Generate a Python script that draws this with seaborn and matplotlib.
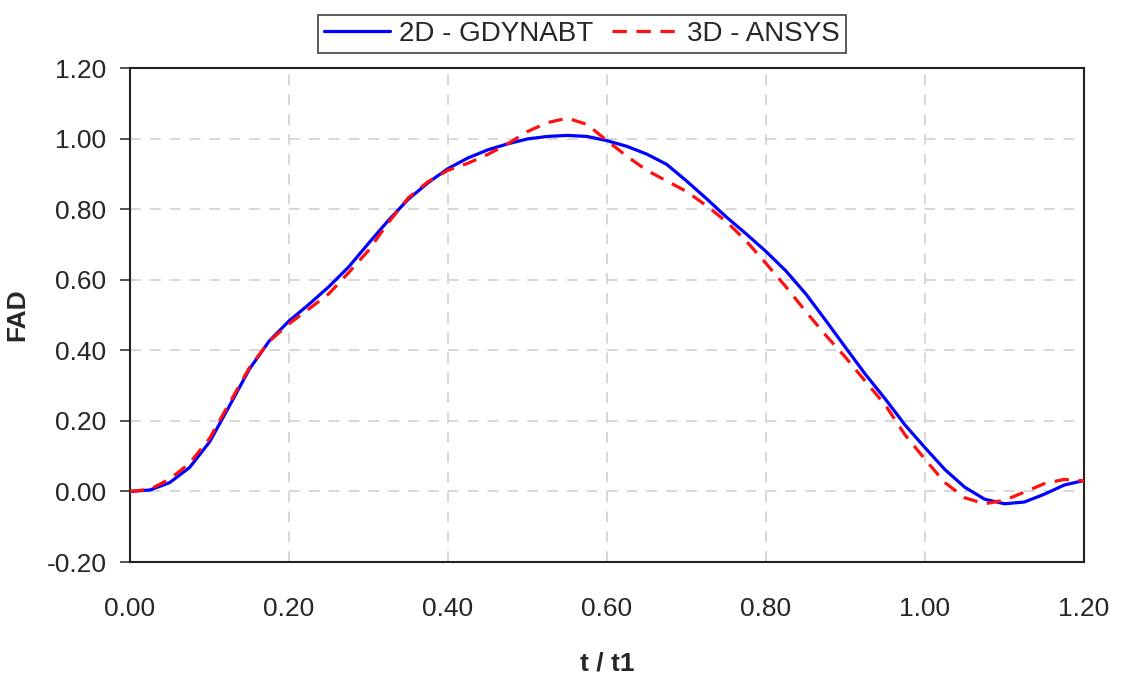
import numpy as np
import pandas as pd
import matplotlib
matplotlib.use("Agg")
import matplotlib.pyplot as plt
import seaborn as sns

t_2d = [0.000, 0.025, 0.050, 0.075, 0.100, 0.125, 0.150, 0.175, 0.200, 0.225,
        0.250, 0.275, 0.300, 0.325, 0.350, 0.375, 0.400, 0.425, 0.450, 0.475,
        0.500, 0.525, 0.550, 0.575, 0.600, 0.625, 0.650, 0.675, 0.700, 0.725,
        0.750, 0.775, 0.800, 0.825, 0.850, 0.875, 0.900, 0.925, 0.950, 0.975,
        1.000, 1.025, 1.050, 1.075, 1.100, 1.125, 1.150, 1.175, 1.200]
fad_2d = [0.000, 0.004, 0.025, 0.068, 0.140, 0.242, 0.346, 0.426, 0.483, 0.530,
          0.580, 0.636, 0.703, 0.768, 0.828, 0.875, 0.915, 0.945, 0.968, 0.985,
          0.999, 1.006, 1.009, 1.006, 0.994, 0.978, 0.956, 0.927, 0.880, 0.830,
          0.778, 0.730, 0.680, 0.625, 0.560, 0.485, 0.408, 0.332, 0.262, 0.188,
          0.124, 0.062, 0.012, -0.022, -0.035, -0.030, -0.008, 0.018, 0.031]

t_3d = t_2d
fad_3d = [0.000, 0.006, 0.035, 0.080, 0.150, 0.250, 0.350, 0.425, 0.475, 0.517,
          0.560, 0.620, 0.683, 0.762, 0.832, 0.878, 0.910, 0.930, 0.955, 0.985,
          1.020, 1.045, 1.058, 1.040, 0.994, 0.950, 0.910, 0.880, 0.850, 0.810,
          0.765, 0.710, 0.646, 0.580, 0.510, 0.443, 0.380, 0.312, 0.245, 0.160,
          0.091, 0.025, -0.018, -0.035, -0.025, -0.002, 0.022, 0.034, 0.030]

labels = ["2D - GDYNABT", "3D - ANSYS"]
x_ticks = [0.0, 0.2, 0.4, 0.6, 0.8, 1.0, 1.2]
y_ticks = [-0.2, 0.0, 0.2, 0.4, 0.6, 0.8, 1.0, 1.2]

sns.set_style("white")
plt.rcParams["font.family"] = ["Liberation Sans", "DejaVu Sans"]

fig = plt.figure(figsize=(11.23, 6.75), dpi=100)
ax = fig.add_axes([130/1123, 1-562/675, (1084-130)/1123, (562-68)/675])

df2 = pd.DataFrame({"t": t_2d, "FAD": fad_2d})
df3 = pd.DataFrame({"t": t_3d, "FAD": fad_3d})
sns.lineplot(data=df2, x="t", y="FAD", ax=ax, color="#0000ff", lw=2.3,
             label=labels[0], zorder=3)
sns.lineplot(data=df3, x="t", y="FAD", ax=ax, color="#ff1010", lw=2.3,
             label=labels[1], zorder=4)
ax.lines[1].set_dashes([4.5, 3])
for ln in ax.lines:
    ln.set_solid_joinstyle("round")
    ln.set_dash_joinstyle("round")

ax.set_xlim(0, 1.2)
ax.set_ylim(-0.2, 1.2)
ax.set_xticks(x_ticks)
ax.set_yticks(y_ticks)
ax.set_xticklabels([f"{v:.2f}" for v in x_ticks])
ax.set_yticklabels([f"{v:.2f}" for v in y_ticks])
ax.grid(True, color="#d4d4d4", linestyle=(0, (6, 5)), lw=1.3)
ax.set_axisbelow(True)
for s in ax.spines.values():
    s.set_visible(True)
    s.set_color("#222222")
    s.set_linewidth(1.5)
ax.tick_params(axis="y", length=7, width=1.3, color="#444444", pad=10,
               labelsize=19, direction="out", left=True)
ax.tick_params(axis="x", length=0, pad=25, labelsize=19)
ax.set_xlabel("t / t1", fontsize=19, fontweight="bold", labelpad=22)
ax.set_ylabel("FAD", fontsize=19, fontweight="bold", labelpad=12)

ax.get_legend().remove()
h, l = ax.get_legend_handles_labels()
leg = fig.legend(h, l, loc="center", bbox_to_anchor=(582/1123, 1-34/675),
                 ncol=2, fontsize=20, frameon=True, fancybox=False,
                 edgecolor="#222222", handlelength=2.4, handletextpad=0.3,
                 columnspacing=0.7, borderpad=0.2)
leg.get_frame().set_linewidth(1.3)

fig.savefig("out.png", dpi=100)
